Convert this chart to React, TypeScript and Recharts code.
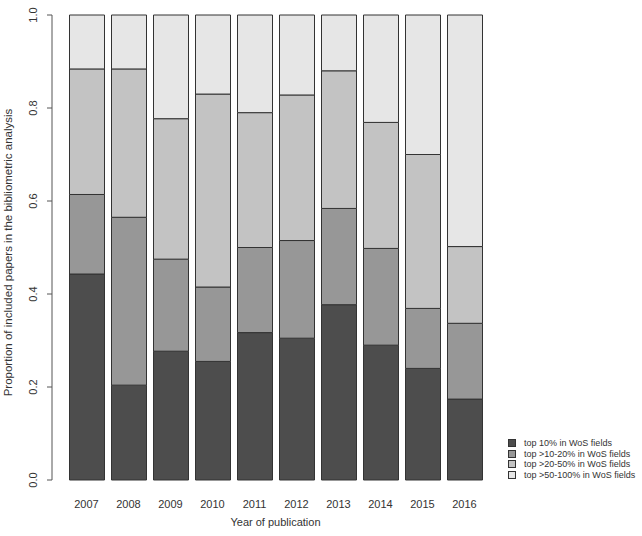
import { Bar, BarChart, XAxis, YAxis } from "recharts";

const years = ["2007", "2008", "2009", "2010", "2011", "2012", "2013", "2014", "2015", "2016"];
const top10 = [0.443, 0.204, 0.277, 0.255, 0.317, 0.305, 0.377, 0.29, 0.24, 0.174];
const top10to20 = [0.171, 0.361, 0.198, 0.16, 0.183, 0.21, 0.207, 0.208, 0.129, 0.163];
const top20to50 = [0.27, 0.319, 0.302, 0.415, 0.29, 0.313, 0.296, 0.271, 0.331, 0.165];
const top50to100 = [0.116, 0.116, 0.223, 0.17, 0.21, 0.172, 0.12, 0.231, 0.3, 0.498];
const yTicks = [0, 0.2, 0.4, 0.6, 0.8, 1.0];

const series = [
  { key: "top10", label: "top 10% in WoS fields", color: "#4D4D4D", values: top10 },
  { key: "top10to20", label: "top >10-20% in WoS fields", color: "#979797", values: top10to20 },
  { key: "top20to50", label: "top >20-50% in WoS fields", color: "#C3C3C3", values: top20to50 },
  { key: "top50to100", label: "top >50-100% in WoS fields", color: "#E6E6E6", values: top50to100 },
];

const data = years.map((year, i) => {
  const row: Record<string, string | number> = { year };
  series.forEach((s) => {
    row[s.key] = s.values[i];
  });
  return row;
});

const font = "'Liberation Sans', Arial, sans-serif";

function YTick({ x, y, payload }: any) {
  const tx = x - 14.5;
  return (
    <text
      x={tx}
      y={y}
      transform={`rotate(-90, ${tx}, ${y})`}
      textAnchor="middle"
      dominantBaseline="central"
      fontSize={11}
      fill="#333"
      fontFamily={font}
    >
      {Number(payload.value).toFixed(1)}
    </text>
  );
}

function XTick({ x, y, payload }: any) {
  return (
    <text x={x} y={y + 24} textAnchor="middle" dominantBaseline="central" fontSize={11} fill="#333" fontFamily={font}>
      {payload.value}
    </text>
  );
}

export default function App() {
  return (
    <div style={{ position: "fixed", left: 0, top: 0, width: 642, height: 536, background: "#fff" }}>
      <BarChart
        width={642}
        height={536}
        data={data}
        margin={{ top: 15, right: 156.5, bottom: 0, left: 0 }}
        barSize={35}
      >
        <XAxis
          dataKey="year"
          height={56}
          axisLine={false}
          tickLine={false}
          tickSize={0}
          tickMargin={0}
          interval={0}
          padding={{ left: 13.5, right: 0 }}
          tick={<XTick />}
          label={{
            content: ({ viewBox }: any) => (
              <text
                x={viewBox.x + viewBox.width / 2 + 6.75}
                y={viewBox.y + 42}
                textAnchor="middle"
                dominantBaseline="central"
                fontSize={11}
                fill="#333"
                fontFamily={font}
              >
                Year of publication
              </text>
            ),
          }}
        />
        <YAxis
          width={52}
          domain={[0, 1]}
          ticks={yTicks}
          tickSize={5}
          tickMargin={0}
          axisLine={{ stroke: "#555" }}
          tickLine={{ stroke: "#555" }}
          tick={<YTick />}
          label={{
            content: ({ viewBox }: any) => {
              const cy = viewBox.y + viewBox.height / 2 + 5;
              return (
                <text
                  x={8}
                  y={cy}
                  transform={`rotate(-90, 8, ${cy})`}
                  textAnchor="middle"
                  dominantBaseline="central"
                  fontSize={11.5}
                  fill="#333"
                  fontFamily={font}
                >
                  Proportion of included papers in the bibliometric analysis
                </text>
              );
            },
          }}
        />
        {series.map((s) => (
          <Bar
            key={s.key}
            dataKey={s.key}
            stackId="a"
            fill={s.color}
            stroke="#333"
            strokeWidth={1}
            isAnimationActive={false}
          />
        ))}
      </BarChart>
      <div style={{ position: "absolute", left: 508, top: 438, fontFamily: font, fontSize: 9, color: "#333" }}>
        {series.map((s) => (
          <div key={s.key} style={{ display: "flex", alignItems: "center", height: 10.5 }}>
            <span
              style={{
                display: "inline-block",
                width: 6,
                height: 6,
                background: s.color,
                border: "1px solid #333",
                marginRight: 8,
              }}
            />
            <span>{s.label}</span>
          </div>
        ))}
      </div>
    </div>
  );
}
